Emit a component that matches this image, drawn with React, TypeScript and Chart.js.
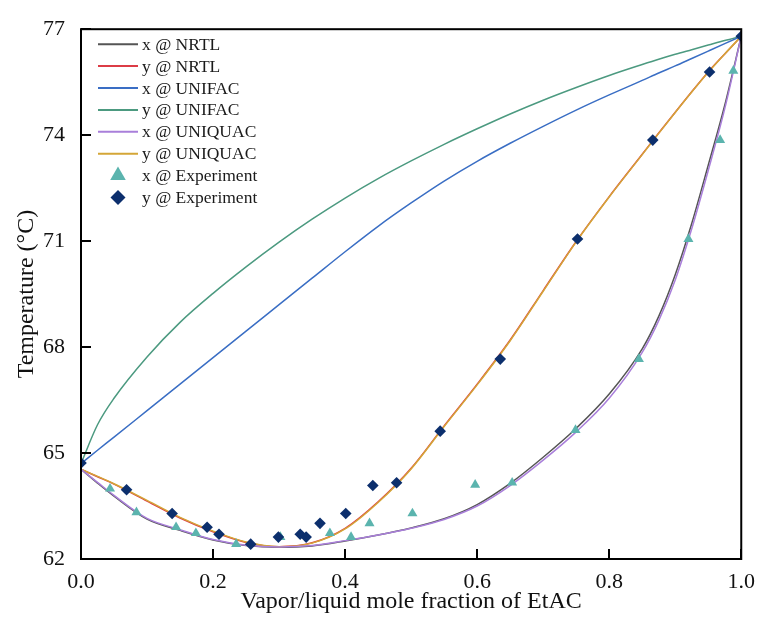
import { useEffect, useRef } from "react";
import { Chart, registerables } from "chart.js";

Chart.register(...registerables);

// Mole-fraction grid on which the model curves are tabulated
const xGrid = [0, 0.025, 0.05, 0.1, 0.15, 0.2, 0.25, 0.3, 0.35, 0.4, 0.45, 0.5, 0.55, 0.6, 0.65, 0.7, 0.75, 0.8, 0.85, 0.875, 0.9, 0.925, 0.95, 0.975, 1.0];

// Bubble (x) and dew (y) temperatures, °C
const nrtlX = [64.54, 64.15, 63.78, 63.13, 62.81, 62.54, 62.38, 62.33, 62.37, 62.51, 62.68, 62.88, 63.14, 63.54, 64.14, 64.88, 65.7, 66.67, 67.95, 68.87, 70.05, 71.5, 73.15, 74.85, 76.8];
const nrtlY = [64.54, 64.33, 64.12, 63.64, 63.16, 62.77, 62.47, 62.35, 62.46, 62.87, 63.62, 64.57, 65.77, 66.95, 68.2, 69.6, 70.99, 72.26, 73.46, 74.06, 74.65, 75.23, 75.79, 76.3, 76.8];
const unifacX = [64.7, 65.08, 65.45, 66.2, 66.95, 67.7, 68.45, 69.2, 69.95, 70.7, 71.42, 72.08, 72.7, 73.26, 73.77, 74.25, 74.71, 75.14, 75.55, 75.76, 75.96, 76.17, 76.38, 76.59, 76.8];
const unifacY = [64.7, 65.8, 66.55, 67.72, 68.7, 69.52, 70.27, 70.97, 71.62, 72.22, 72.77, 73.27, 73.74, 74.18, 74.6, 74.99, 75.35, 75.69, 76.0, 76.15, 76.29, 76.42, 76.55, 76.68, 76.8];
const uniquacX = [64.54, 64.17, 63.8, 63.15, 62.83, 62.55, 62.39, 62.34, 62.38, 62.52, 62.68, 62.87, 63.12, 63.5, 64.08, 64.8, 65.6, 66.55, 67.85, 68.75, 69.9, 71.35, 73.0, 74.75, 76.8];
const uniquacY = [64.54, 64.34, 64.13, 63.66, 63.18, 62.79, 62.48, 62.35, 62.45, 62.85, 63.6, 64.55, 65.75, 66.93, 68.18, 69.58, 70.98, 72.25, 73.45, 74.05, 74.64, 75.22, 75.78, 76.3, 76.8];

// Measured liquid-phase points
const expLiquidX = [0.044, 0.084, 0.144, 0.174, 0.235, 0.302, 0.377, 0.409, 0.437, 0.502, 0.597, 0.653, 0.749, 0.845, 0.92, 0.968, 0.988];
const expLiquidT = [63.99, 63.32, 62.9, 62.73, 62.42, 62.62, 62.73, 62.62, 63.01, 63.29, 64.1, 64.16, 65.65, 67.66, 71.06, 73.86, 75.82];

// Measured vapor-phase points
const expVaporY = [0, 0.069, 0.138, 0.191, 0.209, 0.257, 0.299, 0.332, 0.341, 0.362, 0.401, 0.442, 0.478, 0.544, 0.635, 0.752, 0.866, 0.952, 1.0];
const expVaporT = [64.72, 63.96, 63.29, 62.9, 62.7, 62.42, 62.62, 62.7, 62.62, 63.01, 63.29, 64.08, 64.16, 65.62, 67.66, 71.06, 73.86, 75.79, 76.8];

const yTicks = [62, 65, 68, 71, 74, 77];
const xTicks = [0, 0.2, 0.4, 0.6, 0.8, 1.0];

const FONT = "'Liberation Serif', 'Times New Roman', serif";

const pts = (xs: number[], ys: number[]) => xs.map((x, i) => ({ x, y: ys[i] }));

const curve = (label: string, color: string, ys: number[], order: number) => ({
  label,
  data: pts(xGrid, ys),
  borderColor: color,
  backgroundColor: color,
  borderWidth: 1.5,
  showLine: true,
  pointRadius: 0,
  pointHoverRadius: 0,
  cubicInterpolationMode: "monotone" as const,
  order,
});

// Frame, inward tick marks and the in-plot legend
const decorPlugin = {
  id: "decor",
  afterDatasetsDraw(chart: any) {
    const { ctx, chartArea: a, scales } = chart;
    ctx.save();
    ctx.strokeStyle = "#000";
    ctx.lineWidth = 2;
    ctx.beginPath();
    for (const v of xTicks) {
      const px = Math.round(scales.x.getPixelForValue(v));
      ctx.moveTo(px, a.bottom);
      ctx.lineTo(px, a.bottom - 10);
    }
    for (const v of yTicks) {
      const py = Math.round(scales.y.getPixelForValue(v));
      ctx.moveTo(a.left, py);
      ctx.lineTo(a.left + 10, py);
    }
    ctx.stroke();
    ctx.strokeRect(a.left, a.top, a.right - a.left, a.bottom - a.top);

    // legend
    const lx0 = a.left + 17;
    const lx1 = a.left + 57;
    const tx = a.left + 61;
    const y0 = a.top + 15;
    const dy = 21.9;
    ctx.font = `17.5px ${FONT}`;
    ctx.textBaseline = "middle";
    ctx.textAlign = "left";
    chart.data.datasets.forEach((ds: any, i: number) => {
      const y = y0 + i * dy;
      if (ds.showLine) {
        ctx.strokeStyle = ds.borderColor;
        ctx.lineWidth = 2;
        ctx.beginPath();
        ctx.moveTo(lx0, y);
        ctx.lineTo(lx1, y);
        ctx.stroke();
      } else {
        const cx = (lx0 + lx1) / 2;
        ctx.fillStyle = ds.backgroundColor;
        ctx.beginPath();
        if (ds.pointStyle === "triangle") {
          const r = 9;
          ctx.moveTo(cx, y - r);
          ctx.lineTo(cx + r * 0.866, y + r * 0.5);
          ctx.lineTo(cx - r * 0.866, y + r * 0.5);
        } else {
          const r = 7.5;
          ctx.moveTo(cx, y - r);
          ctx.lineTo(cx + r, y);
          ctx.lineTo(cx, y + r);
          ctx.lineTo(cx - r, y);
        }
        ctx.closePath();
        ctx.fill();
      }
      ctx.fillStyle = "#1a1a1a";
      ctx.fillText(ds.label, tx, y + 1);
    });
    ctx.restore();
  },
};

export default function App() {
  const ref = useRef<HTMLCanvasElement | null>(null);

  useEffect(() => {
    if (!ref.current) return;
    Chart.defaults.font.family = FONT;
    const chart = new Chart(ref.current, {
      type: "scatter",
      data: {
        datasets: [
          curve("x @ NRTL", "#555555", nrtlX, 4),
          curve("y @ NRTL", "#dc3c46", nrtlY, 4),
          curve("x @ UNIFAC", "#3a6ec4", unifacX, 3),
          curve("y @ UNIFAC", "#4c9a80", unifacY, 3),
          curve("x @ UNIQUAC", "#a97fda", uniquacX, 2),
          curve("y @ UNIQUAC", "#d4a637", uniquacY, 2),
          {
            label: "x @ Experiment",
            data: pts(expLiquidX, expLiquidT),
            showLine: false,
            pointStyle: "triangle",
            pointRadius: 5.8,
            pointHoverRadius: 5.8,
            borderWidth: 0,
            backgroundColor: "#5bb4ae",
            borderColor: "#5bb4ae",
            order: 1,
          },
          {
            label: "y @ Experiment",
            data: pts(expVaporY, expVaporT),
            showLine: false,
            pointStyle: "rectRot",
            pointRadius: 5.8,
            pointHoverRadius: 5.8,
            borderWidth: 0,
            backgroundColor: "#0c2f6d",
            borderColor: "#0c2f6d",
            order: 0,
          },
        ],
      },
      options: {
        responsive: false,
        animation: false,
        events: [],
        layout: { padding: { top: 24, right: 19, left: 0, bottom: 0 } },
        plugins: { legend: { display: false }, tooltip: { enabled: false } },
        scales: {
          x: {
            type: "linear",
            min: 0,
            max: 1,
            afterBuildTicks: (s: any) => {
              s.ticks = xTicks.map((v) => ({ value: v }));
            },
            afterFit: (s: any) => {
              s.height = 71;
            },
            grid: { display: false, drawTicks: false },
            border: { display: false },
            ticks: {
              color: "#111",
              font: { size: 22 },
              padding: 10,
              maxRotation: 0,
              callback: (v: any) => Number(v).toFixed(1),
            },
            title: {
              display: true,
              text: "Vapor/liquid mole fraction of EtAC",
              color: "#111",
              font: { size: 24 },
              padding: { top: 0, bottom: 14 },
            },
          },
          y: {
            type: "linear",
            min: 62,
            max: 77,
            afterBuildTicks: (s: any) => {
              s.ticks = yTicks.map((v) => ({ value: v }));
            },
            afterFit: (s: any) => {
              s.width = 81;
            },
            grid: { display: false, drawTicks: false },
            border: { display: false },
            ticks: {
              color: "#111",
              font: { size: 22 },
              padding: 16,
              callback: (v: any) => String(v),
            },
            title: {
              display: true,
              text: "Temperature (°C)",
              color: "#111",
              font: { size: 24 },
              padding: { top: 12, bottom: 0 },
            },
          },
        },
      },
      plugins: [decorPlugin],
    } as any);
    return () => chart.destroy();
  }, []);

  return (
    <div style={{ position: "absolute", left: 0, top: 0, width: 765, height: 630, background: "#fff" }}>
      <canvas ref={ref} width={765} height={630} />
    </div>
  );
}
